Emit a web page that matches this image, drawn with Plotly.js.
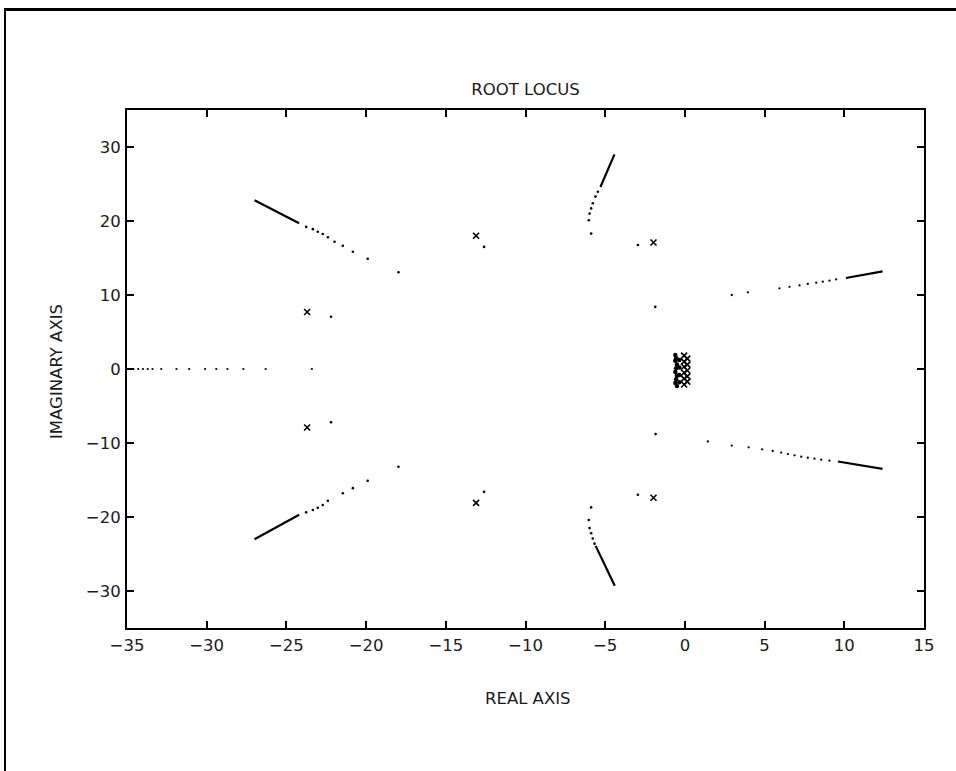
<!DOCTYPE html>
<html>
<head>
<meta charset="utf-8">
<script src="https://cdn.plot.ly/plotly-3.0.1.min.js"></script>
<style>
  html, body { margin: 0; padding: 0; background: #fff; overflow: hidden; }
  #wrap { position: relative; width: 956px; height: 771px; overflow: hidden; }
  .bar { position: absolute; background: #000; pointer-events: none; }
</style>
</head>
<body>
<div id="wrap">
  <div id="chart" style="width:956px;height:771px;"></div>
  <div class="bar" style="left:4px; top:8px; width:952px; height:3px;"></div>
  <div class="bar" style="left:4px; top:8px; width:2px; height:763px;"></div>
</div>
<script>
// ---- Data ----
// Open-loop poles (x markers)
const poleX = [-23.7, -23.7, -13.1, -13.1, -1.97, -1.97, -0.05, -0.05, -0.05, -0.05, -0.05, -0.05, 0.15, 0.15, 0.15, 0.15, 0.15];
const poleY = [7.7, -7.9, 18.0, -18.1, 17.1, -17.4, 1.8, 1.0, 0.3, -0.5, -1.3, -2.1, 1.4, 0.6, -0.2, -1.0, -1.7];

// Upper-left branch
const ulLineX = [-27.0, -24.2];
const ulLineY = [22.8, 19.7];
const ulDotX = [-23.76, -23.34, -23.03, -22.72, -22.4, -21.98, -21.46, -20.83, -19.9, -17.97];
const ulDotY = [19.2, 18.9, 18.55, 18.24, 17.8, 17.2, 16.66, 15.85, 14.9, 13.07];

// Lower-left branch
const llLineX = [-27.0, -24.2];
const llLineY = [-23.0, -19.7];
const llDotX = [-23.76, -23.34, -23.03, -22.72, -22.4, -21.46, -20.83, -19.9, -17.97];
const llDotY = [-19.37, -19.05, -18.74, -18.38, -17.8, -16.8, -16.1, -15.1, -13.2];

// Real-axis branch
const raDotX = [-34.9, -34.6, -34.3, -34.0, -33.7, -33.4, -32.85, -31.9, -31.1, -30.1, -29.4, -28.7, -27.7, -26.3, -23.4];
const raDotY = [0, 0, 0, 0, 0, 0, 0, 0, 0, 0, 0, 0, 0, 0, 0];

// Isolated locus points near poles
const isoX = [-22.2, -22.2, -12.6, -12.6, -2.95, -2.95, -1.86, -1.84];
const isoY = [7.07, -7.2, 16.5, -16.6, 16.76, -17.0, 8.4, -8.8];

// Upper-middle branch
const umLineX = [-4.42, -5.3];
const umLineY = [29.0, 24.6];
const umDotX = [-5.46, -5.61, -5.78, -5.88, -5.98, -6.03, -5.88];
const umDotY = [23.96, 23.3, 22.4, 21.7, 21.0, 20.1, 18.3];

// Lower-middle branch
const lmLineX = [-5.6, -4.4];
const lmLineY = [-23.9, -29.3];
const lmDotX = [-5.88, -6.03, -5.98, -5.88, -5.78, -5.67];
const lmDotY = [-18.7, -20.4, -21.5, -22.2, -22.9, -23.6];

// Upper-right branch
const urDotX = [2.94, 3.95, 5.93, 6.56, 7.19, 7.71, 8.24, 8.65, 9.07, 9.49];
const urDotY = [10.0, 10.36, 10.9, 11.1, 11.3, 11.49, 11.67, 11.8, 11.93, 12.1];
const urLineX = [10.1, 12.4];
const urLineY = [12.3, 13.2];

// Lower-right branch
const lrDotX = [1.44, 2.94, 4.0, 4.85, 5.51, 6.04, 6.46, 6.88, 7.3, 7.71, 8.13, 8.55, 9.07];
const lrDotY = [-9.8, -10.35, -10.58, -10.85, -11.08, -11.3, -11.49, -11.67, -11.85, -11.99, -12.12, -12.26, -12.39];
const lrLineX = [9.6, 12.4];
const lrLineY = [-12.5, -13.5];

// Cluster of closed-loop points near the origin
const ocDotX = [-0.6, -0.55, -0.6, -0.5, -0.55, -0.6, -0.5, -0.55, -0.6, -0.5, -0.35, -0.35, -0.35, -0.35];
const ocDotY = [1.9, 1.5, 1.1, 0.6, 0.1, -0.4, -0.9, -1.4, -1.9, -2.3, 1.2, 0.2, -0.8, -1.8];

const xTicks = [-35, -30, -25, -20, -15, -10, -5, 0, 5, 10, 15];
const yTicks = [-30, -20, -10, 0, 10, 20, 30];

// ---- Traces ----
const ink = '#000';
function dots(x, y, size) {
  return { x: x, y: y, type: 'scatter', mode: 'markers',
           marker: { color: ink, size: size || 2.6, symbol: 'circle' },
           hoverinfo: 'x+y', showlegend: false };
}
function seg(x, y) {
  return { x: x, y: y, type: 'scatter', mode: 'lines',
           line: { color: ink, width: 2.2 }, hoverinfo: 'x+y', showlegend: false };
}

const traces = [
  seg(ulLineX, ulLineY), dots(ulDotX, ulDotY),
  seg(llLineX, llLineY), dots(llDotX, llDotY),
  dots(raDotX, raDotY, 2.2),
  dots(isoX, isoY),
  seg(umLineX, umLineY), dots(umDotX, umDotY),
  seg(lmLineX, lmLineY), dots(lmDotX, lmDotY),
  dots(urDotX, urDotY, 2.3), seg(urLineX, urLineY),
  dots(lrDotX, lrDotY, 2.3), seg(lrLineX, lrLineY),
  dots(ocDotX, ocDotY, 4.5),
  { x: poleX, y: poleY, type: 'scatter', mode: 'markers',
    marker: { symbol: 'x-thin', size: 6, color: ink, line: { color: ink, width: 1.6 } },
    hoverinfo: 'x+y', showlegend: false }
];

const font = { family: '"DejaVu Sans", "Liberation Sans", sans-serif', size: 16.5, color: '#1a1a1a' };

const axisCommon = {
  showgrid: false, zeroline: false, showline: true, linecolor: ink, linewidth: 2,
  mirror: 'ticks', ticks: 'inside', ticklen: 7, tickwidth: 1.5, tickcolor: ink,
  tickmode: 'array', tickfont: font, fixedrange: true
};

const layout = {
  width: 956, height: 771,
  margin: { l: 127, r: 32, t: 110, b: 143 },
  paper_bgcolor: '#fff', plot_bgcolor: '#fff',
  font: font,
  showlegend: false,
  title: { text: 'ROOT LOCUS', font: font, xref: 'paper', yref: 'container',
           x: 0.5, xanchor: 'center', y: 1 - 89 / 771, yanchor: 'middle' },
  xaxis: Object.assign({}, axisCommon, {
    range: [-35, 15], tickvals: xTicks, ticktext: xTicks.map(v => v < 0 ? '\u2212' + Math.abs(v) : String(v)),
    ticklabelstandoff: 1
  }),
  yaxis: Object.assign({}, axisCommon, {
    range: [-35, 35], tickvals: yTicks, ticktext: yTicks.map(v => v < 0 ? '\u2212' + Math.abs(v) : String(v)),
    ticklabelstandoff: 1
  }),
  annotations: [
    { text: 'REAL AXIS', xref: 'paper', yref: 'paper', x: 0.503, y: (628 - 698) / 518,
      xanchor: 'center', yanchor: 'middle', showarrow: false, font: font },
    { text: 'IMAGINARY AXIS', xref: 'paper', yref: 'paper', x: (56 - 127) / 797, y: (628 - 372) / 518,
      xanchor: 'center', yanchor: 'middle', showarrow: false, textangle: -90, font: font }
  ]
};

Plotly.newPlot('chart', traces, layout, { displayModeBar: false });
</script>
</body>
</html>
